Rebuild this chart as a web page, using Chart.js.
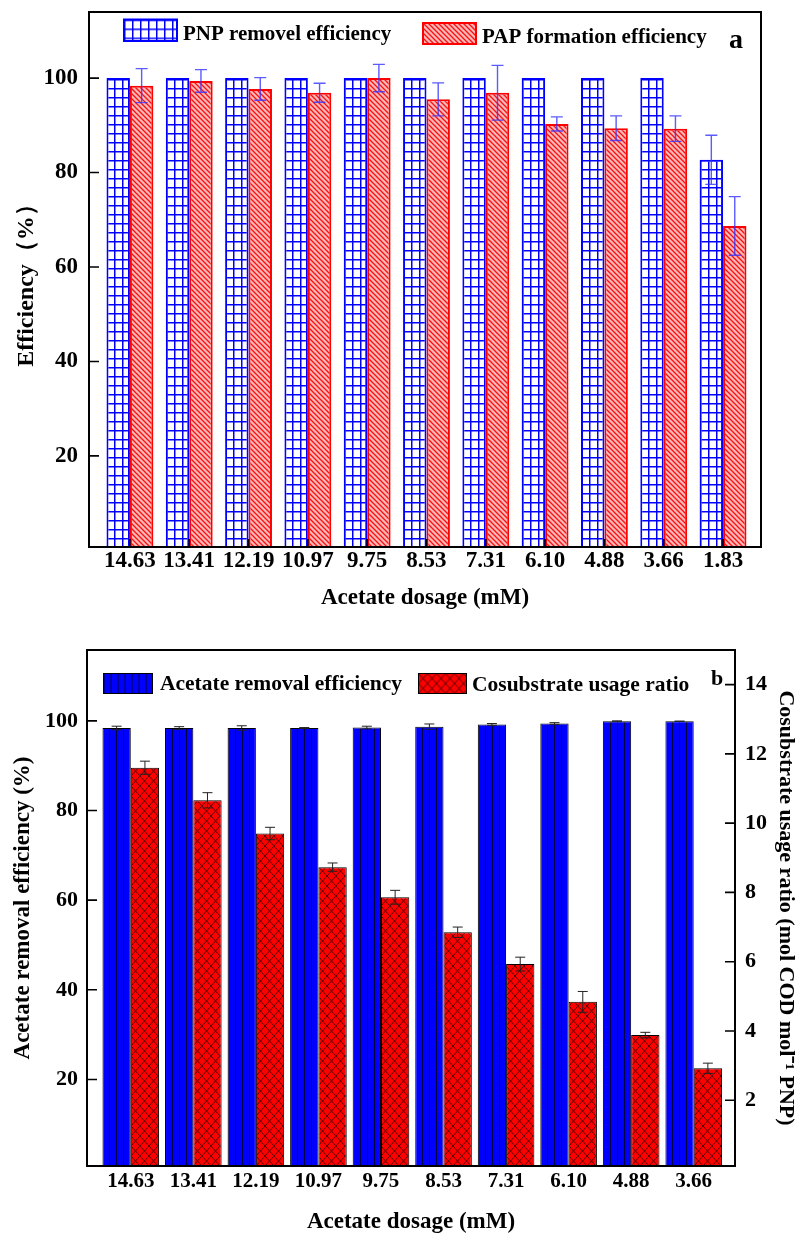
<!DOCTYPE html>
<html lang="en">
<head>
    <meta charset="UTF-8">
    <title>Acetate dosage - efficiency</title>
    <script src="https://cdn.jsdelivr.net/npm/chart.js@4.4.0/dist/chart.umd.min.js"></script>
    <style>
        body { margin: 0; background: #fff; }
        canvas { display: block; }
    </style>
</head>
<body>
    <canvas id="chartA" width="807" height="620"></canvas>
    <canvas id="chartB" width="807" height="619"></canvas>

    <script>
        // ---- panel a ----
        const dosageA = ['14.63', '13.41', '12.19', '10.97', '9.75', '8.53', '7.31', '6.10', '4.88', '3.66', '1.83'];
        const pnpRemoval = [100, 100, 100, 100, 100, 100, 100, 100, 100, 100, 82.7];
        const pnpErr = [0, 0, 0, 0, 0, 0, 0, 0, 0, 0, 5.2];
        const papFormation = [98.4, 99.4, 97.7, 96.9, 100, 95.5, 96.9, 90.3, 89.4, 89.3, 68.7];
        const papErr = [3.6, 2.4, 2.4, 2.0, 2.9, 3.5, 5.8, 1.5, 2.6, 2.7, 6.2];
        const ticksA = [20, 40, 60, 80, 100];

        // ---- panel b ----
        const dosageB = ['14.63', '13.41', '12.19', '10.97', '9.75', '8.53', '7.31', '6.10', '4.88', '3.66'];
        const acetateRemoval = [98.4, 98.4, 98.4, 98.4, 98.5, 98.7, 99.2, 99.4, 99.9, 99.9];
        const acetateErr = [0.4, 0.3, 0.5, 0.1, 0.3, 0.6, 0.2, 0.2, 0.1, 0.05];
        const usageRatio = [11.6, 10.66, 9.7, 8.73, 7.86, 6.85, 5.93, 4.84, 3.88, 2.92];
        const usageErr = [0.19, 0.22, 0.18, 0.12, 0.2, 0.15, 0.2, 0.3, 0.08, 0.15];
        const ticksBLeft = [20, 40, 60, 80, 100];
        const ticksBRight = [2, 4, 6, 8, 10, 12, 14];

        const FONT = "'Liberation Serif', 'Times New Roman', serif";

        function tile(w, h, paint) {
            const c = document.createElement('canvas');
            c.width = w;
            c.height = h;
            paint(c.getContext('2d'), w, h);
            return c;
        }

        // fill patterns
        const gridTile = tile(8, 9, function (g, w, h) {
            g.fillStyle = '#fff';
            g.fillRect(0, 0, w, h);
            g.fillStyle = '#0000ff';
            g.fillRect(0, 0, 1.5, h);
            g.fillRect(0, 0, w, 1.5);
        });
        const hatchTile = tile(5, 5, function (g, w, h) {
            g.fillStyle = '#f7b9b9';
            g.fillRect(0, 0, w, h);
            g.strokeStyle = '#ff1010';
            g.lineWidth = 1.3;
            g.beginPath();
            g.moveTo(-1, -1); g.lineTo(w + 1, h + 1);
            g.moveTo(w - 1, -1); g.lineTo(w + 1, 1);
            g.moveTo(-1, h - 1); g.lineTo(1, h + 1);
            g.stroke();
        });
        const stripeTile = tile(7, 4, function (g, w, h) {
            g.fillStyle = '#0000ff';
            g.fillRect(0, 0, w, h);
            g.fillStyle = '#000040';
            g.fillRect(0, 0, 1, h);
        });
        const crossTile = tile(9, 10, function (g, w, h) {
            g.fillStyle = '#ff0000';
            g.fillRect(0, 0, w, h);
            g.strokeStyle = '#300000';
            g.lineWidth = 0.8;
            g.beginPath();
            g.moveTo(0, 0); g.lineTo(w, h);
            g.moveTo(w, 0); g.lineTo(0, h);
            g.stroke();
        });

        // each bar gets its own pattern, lined up with its left edge
        const patternPlugin = {
            id: 'patterns',
            beforeDatasetsDraw(chart) {
                const ctx = chart.ctx;
                const base = chart.chartArea.bottom;
                chart.data.datasets.forEach(function (ds, i) {
                    if (!ds.tile) return;
                    chart.getDatasetMeta(i).data.forEach(function (bar) {
                        const p = ctx.createPattern(ds.tile, 'repeat');
                        p.setTransform(new DOMMatrix().translate(Math.round(bar.x - bar.width / 2), base));
                        bar.options.backgroundColor = p;
                    });
                });
            }
        };

        const errorBarPlugin = {
            id: 'errorBars',
            afterDatasetsDraw(chart) {
                const ctx = chart.ctx;
                chart.data.datasets.forEach(function (ds, i) {
                    if (!ds.errors) return;
                    const meta = chart.getDatasetMeta(i);
                    const scale = chart.scales[meta.yAxisID];
                    ctx.save();
                    ctx.strokeStyle = ds.errorColor;
                    ctx.lineWidth = ds.errorWidth;
                    meta.data.forEach(function (bar, j) {
                        const e = ds.errors[j];
                        if (!e) return;
                        const v = ds.data[j].y;
                        const hi = scale.getPixelForValue(v + e);
                        const lo = scale.getPixelForValue(v - e);
                        const x = bar.x, c = ds.capHalf;
                        ctx.beginPath();
                        ctx.moveTo(x, hi); ctx.lineTo(x, lo);
                        ctx.moveTo(x - c, hi); ctx.lineTo(x + c, hi);
                        ctx.moveTo(x - c, lo); ctx.lineTo(x + c, lo);
                        ctx.stroke();
                    });
                    ctx.restore();
                });
            }
        };

        // box around the plot + inward ticks
        const framePlugin = {
            id: 'frame',
            afterDatasetsDraw(chart, args, o) {
                const ctx = chart.ctx;
                const a = chart.chartArea;
                ctx.save();
                ctx.strokeStyle = '#000';
                ctx.lineWidth = 1.6;
                ctx.beginPath();
                Object.values(chart.scales).forEach(function (s) {
                    if (s.axis !== 'y') return;
                    const left = s.position === 'left';
                    const x0 = left ? a.left : a.right;
                    s.ticks.forEach(function (t) {
                        const y = s.getPixelForValue(t.value);
                        ctx.moveTo(x0, y);
                        ctx.lineTo(x0 + (left ? o.tick : -o.tick), y);
                    });
                });
                if (o.xTick) {
                    const xs = chart.scales.x;
                    xs.ticks.forEach(function (t) {
                        const x = xs.getPixelForValue(t.value);
                        ctx.moveTo(x, a.bottom);
                        ctx.lineTo(x, a.bottom - o.xTick);
                    });
                }
                ctx.stroke();
                ctx.lineWidth = 2;
                ctx.strokeRect(a.left, a.top, a.right - a.left, a.bottom - a.top);
                ctx.restore();
            }
        };

        const legendPlugin = {
            id: 'boxLegend',
            afterDraw(chart, args, o) {
                const ctx = chart.ctx;
                ctx.save();
                o.items.forEach(function (it) {
                    const ds = chart.data.datasets[it.dataset];
                    const p = ctx.createPattern(ds.tile, 'repeat');
                    p.setTransform(new DOMMatrix().translate(it.x, it.y));
                    ctx.fillStyle = p;
                    ctx.fillRect(it.x, it.y, it.w, it.h);
                    ctx.strokeStyle = ds.borderColor;
                    ctx.lineWidth = it.border;
                    ctx.strokeRect(it.x, it.y, it.w, it.h);
                    ctx.fillStyle = '#000';
                    ctx.font = 'bold ' + o.size + 'px ' + FONT;
                    ctx.textBaseline = 'alphabetic';
                    ctx.fillText(ds.label, it.textX, it.base);
                });
                ctx.font = 'bold ' + o.markSize + 'px ' + FONT;
                ctx.fillText(o.mark, o.markX, o.markY);
                ctx.restore();
            }
        };

        function font(size) {
            return { family: FONT, size: size, weight: 'bold' };
        }

        // force the axis box size and drop the label overhang padding
        function fixSize(prop, val) {
            return function (s) {
                s[prop] = val;
                s.paddingTop = 0;
                s.paddingBottom = 0;
                s.paddingLeft = 0;
                s.paddingRight = 0;
            };
        }

        function setTicks(list) {
            return function (s) { s.ticks = list.map(function (v) { return { value: v }; }); };
        }

        function points(values) {
            return values.map(function (y, i) { return { x: i, y: y }; });
        }

        Chart.defaults.animation = false;

        // ---------------- chart a ----------------
        new Chart(document.getElementById('chartA'), {
            type: 'bar',
            data: {
                datasets: [
                    {
                        label: 'PNP removel efficiency',
                        data: points(pnpRemoval),
                        errors: pnpErr,
                        tile: gridTile,
                        backgroundColor: function () { return '#ffffff'; },
                        borderColor: '#0000ff',
                        borderWidth: 2,
                        errorColor: 'rgba(50,50,255,0.8)',
                        errorWidth: 1.4,
                        capHalf: 6
                    },
                    {
                        label: 'PAP formation efficiency',
                        data: points(papFormation),
                        errors: papErr,
                        tile: hatchTile,
                        backgroundColor: function () { return '#f7b9b9'; },
                        borderColor: '#ff0000',
                        borderWidth: 2,
                        errorColor: 'rgba(50,50,255,0.8)',
                        errorWidth: 1.4,
                        capHalf: 6
                    }
                ]
            },
            options: {
                responsive: false,
                devicePixelRatio: 1,
                categoryPercentage: 0.79,
                barPercentage: 1,
                layout: { padding: { top: 12, right: 46, left: 0, bottom: 0 } },
                plugins: {
                    legend: { display: false },
                    tooltip: { enabled: false },
                    frame: { tick: 10, xTick: 8 },
                    boxLegend: {
                        size: 21,
                        items: [
                            { dataset: 0, x: 124, y: 19.5, w: 53, h: 21.5, border: 2, textX: 183, base: 39.5 },
                            { dataset: 1, x: 423, y: 23, w: 53, h: 21, border: 2, textX: 482, base: 42.5 }
                        ],
                        mark: 'a', markSize: 28, markX: 729, markY: 48
                    }
                },
                scales: {
                    x: {
                        type: 'linear',
                        offset: false,
                        min: -0.69,
                        max: 10.64,
                        afterFit: fixSize('height', 73),
                        afterBuildTicks: setTicks(dosageA.map(function (d, i) { return i; })),
                        grid: { display: false, drawTicks: false },
                        border: { display: false },
                        ticks: {
                            autoSkip: false,
                            maxRotation: 0,
                            padding: 0,
                            color: '#000',
                            font: font(23),
                            callback: function (v) { return dosageA[v]; }
                        },
                        title: {
                            display: true,
                            text: 'Acetate dosage (mM)',
                            color: '#000',
                            font: font(23),
                            padding: { top: 0, bottom: 8 }
                        }
                    },
                    y: {
                        type: 'linear',
                        position: 'left',
                        min: 0.7,
                        max: 114,
                        afterFit: fixSize('width', 89),
                        afterBuildTicks: setTicks(ticksA),
                        grid: { display: false, drawTicks: false },
                        border: { display: false },
                        ticks: { padding: 11, color: '#000', font: font(23) },
                        title: {
                            display: true,
                            text: 'Efficiency（%）',
                            color: '#000',
                            font: font(24),
                            padding: { top: 12, bottom: 0 }
                        }
                    }
                }
            },
            plugins: [patternPlugin, errorBarPlugin, framePlugin, legendPlugin]
        });

        // ---------------- chart b ----------------
        new Chart(document.getElementById('chartB'), {
            type: 'bar',
            data: {
                datasets: [
                    {
                        label: 'Acetate removal efficiency',
                        data: points(acetateRemoval),
                        yAxisID: 'y',
                        errors: acetateErr,
                        tile: stripeTile,
                        backgroundColor: function () { return '#0000ff'; },
                        borderColor: '#000',
                        borderWidth: 1,
                        errorColor: '#222',
                        errorWidth: 1,
                        capHalf: 5
                    },
                    {
                        label: 'Cosubstrate usage ratio',
                        data: points(usageRatio),
                        yAxisID: 'y1',
                        errors: usageErr,
                        tile: crossTile,
                        backgroundColor: function () { return '#ff0000'; },
                        borderColor: '#000',
                        borderWidth: 1,
                        errorColor: '#222',
                        errorWidth: 1,
                        capHalf: 5
                    }
                ]
            },
            options: {
                responsive: false,
                devicePixelRatio: 1,
                categoryPercentage: 0.905,
                barPercentage: 1,
                layout: { padding: { top: 30, right: 0, left: 0, bottom: 0 } },
                plugins: {
                    legend: { display: false },
                    tooltip: { enabled: false },
                    frame: { tick: 10, xTick: 0 },
                    boxLegend: {
                        size: 21.5,
                        items: [
                            { dataset: 0, x: 103.5, y: 53.5, w: 49, h: 20, border: 1, textX: 160, base: 70 },
                            { dataset: 1, x: 418.5, y: 53.5, w: 48, h: 20, border: 1, textX: 472, base: 70.5 }
                        ],
                        mark: 'b', markSize: 22, markX: 711, markY: 65
                    }
                },
                scales: {
                    x: {
                        type: 'linear',
                        offset: false,
                        min: -0.70,
                        max: 9.66,
                        afterFit: fixSize('height', 73),
                        afterBuildTicks: setTicks(dosageB.map(function (d, i) { return i; })),
                        grid: { display: false, drawTicks: false },
                        border: { display: false },
                        ticks: {
                            autoSkip: false,
                            maxRotation: 0,
                            padding: 3,
                            color: '#000',
                            font: font(21),
                            callback: function (v) { return dosageB[v]; }
                        },
                        title: {
                            display: true,
                            text: 'Acetate dosage (mM)',
                            color: '#000',
                            font: font(23),
                            padding: { top: 0, bottom: 3 }
                        }
                    },
                    y: {
                        type: 'linear',
                        position: 'left',
                        min: 0.7,
                        max: 115.8,
                        afterFit: fixSize('width', 87),
                        afterBuildTicks: setTicks(ticksBLeft),
                        grid: { display: false, drawTicks: false },
                        border: { display: false },
                        ticks: { padding: 9, color: '#000', font: font(22) },
                        title: {
                            display: true,
                            text: 'Acetate removal efficiency (%)',
                            color: '#000',
                            font: font(23),
                            padding: { top: 9, bottom: 0 }
                        }
                    },
                    y1: {
                        type: 'linear',
                        position: 'right',
                        min: 0.1,
                        max: 15,
                        afterFit: fixSize('width', 72),
                        afterBuildTicks: setTicks(ticksBRight),
                        grid: { display: false, drawTicks: false },
                        border: { display: false },
                        ticks: { padding: 10, color: '#000', font: font(22) },
                        title: {
                            display: true,
                            text: 'Cosubstrate usage ratio (mol COD mol⁻¹ PNP)',
                            color: '#000',
                            font: font(22),
                            padding: { top: 8, bottom: 0 }
                        }
                    }
                }
            },
            plugins: [patternPlugin, errorBarPlugin, framePlugin, legendPlugin]
        });
    </script>
</body>
</html>
